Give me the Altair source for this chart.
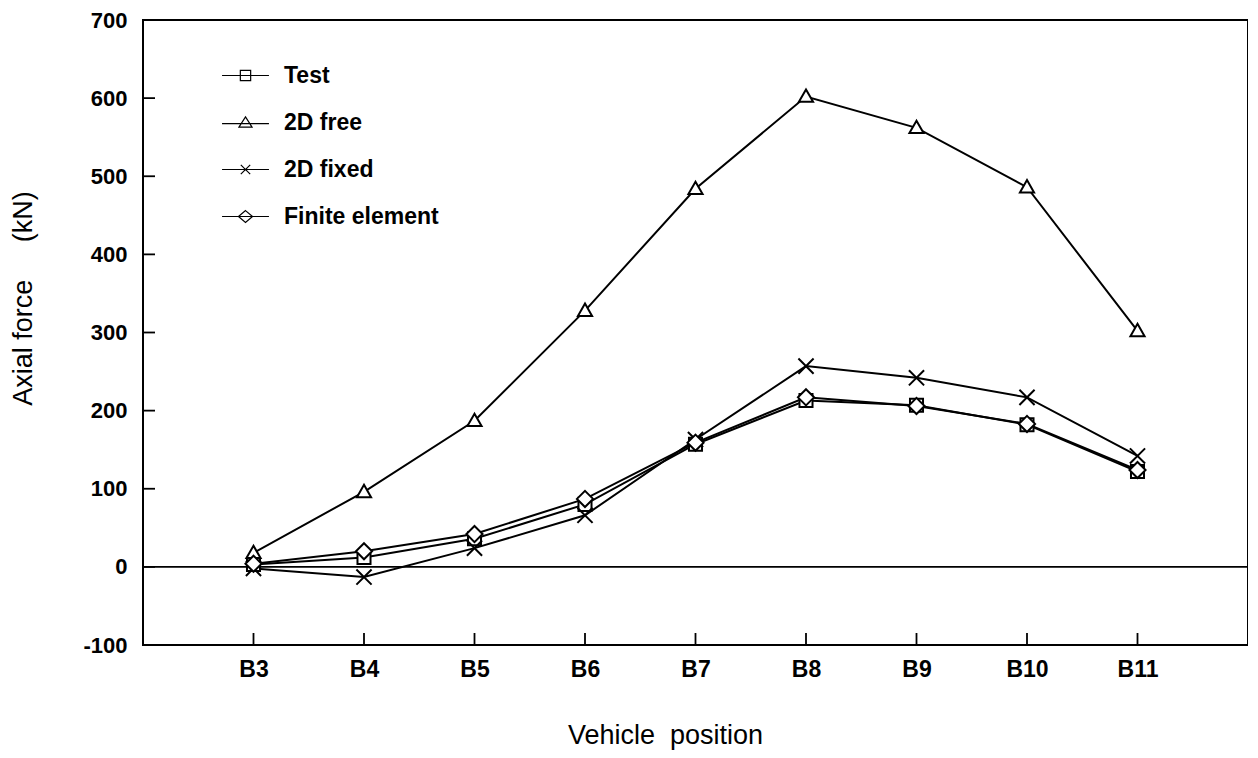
import altair as alt
import pandas as pd

positions = ["B3", "B4", "B5", "B6", "B7", "B8", "B9", "B10", "B11"]
series_names = ["Test", "2D  free", "2D  fixed", "Finite  element"]
test_vals = [3, 12, 36, 80, 157, 213, 207, 182, 122]
free_vals = [18, 96, 187, 328, 484, 602, 562, 486, 302]
fixed_vals = [-2, -13, 24, 66, 163, 257, 242, 217, 142]
fe_vals = [4, 20, 42, 87, 159, 217, 206, 183, 124]
y_ticks = [-100, 0, 100, 200, 300, 400, 500, 600, 700]

rows = []
for name, vals in zip(series_names, [test_vals, free_vals, fixed_vals, fe_vals]):
    for i, (p, v) in enumerate(zip(positions, vals)):
        rows.append({"series": name, "pos": p, "idx": i, "force": v})
df = pd.DataFrame(rows)
ticks_df = pd.DataFrame({"tick": y_ticks})
pos_df = pd.DataFrame({"pos": positions})

W, H = 1105, 625

marker_paths = [
    "M-1,-1H1V1H-1Z",
    "M0,-1L1,0.75H-1Z",
    "M-1,-1L1,1M-1,1L1,-1",
    "M0,-1L1,0L0,1L-1,0Z",
]
legend_paths = [
    "M-1,0H1M-0.22,-0.22H0.22V0.22H-0.22Z",
    "M-1,0.05H1M0,-0.24L0.28,0.2H-0.28Z",
    "M-1,0H1M-0.2,-0.2L0.2,0.2M-0.2,0.2L0.2,-0.2",
    "M-1,0H1M0,-0.25L0.3,0L0,0.25L-0.3,0Z",
]

LABEL_FONT = "Liberation Sans"

x_enc = alt.X(
    "pos:O",
    scale=alt.Scale(type="point", domain=positions, padding=1),
    axis=alt.Axis(
        title="Vehicle\u00a0\u00a0position",
        labelAngle=0,
        labelAlign="center",
        ticks=False,
        domain=False,
        grid=False,
        labelFont=LABEL_FONT,
        labelFontWeight="bold",
        labelFontSize=23,
        labelPadding=24,
        labelColor="black",
        titleFont="Liberation Sans",
        titleFontWeight="normal",
        titleFontSize=27,
        titleX=522,
        titleY=98,
        titleBaseline="alphabetic",
        titleAlign="center",
        titleColor="black",
    ),
)
y_scale = alt.Scale(domain=[-100, 700], nice=False, zero=False)
y_enc = alt.Y(
    "force:Q",
    scale=y_scale,
    axis=alt.Axis(
        title="Axial force\u00a0\u00a0\u00a0\u00a0 (kN)",
        values=y_ticks,
        labelExpr="'' + datum.value",
        ticks=False,
        domain=False,
        grid=False,
        labelFont=LABEL_FONT,
        labelFontWeight="bold",
        labelFontSize=22,
        labelPadding=16,
        labelColor="black",
        titleFont="Liberation Sans",
        titleFontWeight="normal",
        titleFontSize=27,
        titleX=-106,
        titleY=278,
        titleAngle=270,
        titleBaseline="bottom",
        titleAlign="center",
        titleColor="black",
    ),
)

base = alt.Chart(df)

lines = base.mark_line(color="black", strokeWidth=2).encode(
    x=x_enc, y=y_enc, detail="series:N", order=alt.Order("idx:Q")
)

points = base.mark_point(
    fill="white", stroke="black", strokeWidth=2, opacity=1, fillOpacity=1
).encode(
    x="pos:O",
    y="force:Q",
    shape=alt.Shape(
        "series:N",
        scale=alt.Scale(domain=series_names, range=marker_paths),
        legend=None,
    ),
    size=alt.Size(
        "series:N",
        scale=alt.Scale(domain=series_names, range=[170, 260, 150, 210]),
        legend=None,
    ),
)

legend_layer = base.mark_point(
    filled=False, color="black", strokeWidth=1.2, opacity=0
).encode(
    x="pos:O",
    y="force:Q",
    shape=alt.Shape(
        "series:N",
        scale=alt.Scale(domain=series_names, range=legend_paths),
        legend=alt.Legend(
            title=None,
            orient="none",
            legendX=78,
            legendY=31,
            symbolSize=2200,
            symbolStrokeWidth=1.2,
            symbolStrokeColor="black",
            symbolOpacity=1,
            labelFont=LABEL_FONT,
            labelFontWeight="bold",
            labelFontSize=23,
            labelColor="black",
            labelOffset=14,
            labelLimit=400,
            rowPadding=10,
        ),
    ),
)

zero_line = alt.Chart(pd.DataFrame({"z": [0]})).mark_rule(
    color="black", strokeWidth=1.8
).encode(y=alt.Y("z:Q", scale=y_scale))

y_tick_marks = alt.Chart(ticks_df).mark_rule(color="black", strokeWidth=1.8).encode(
    y=alt.Y("tick:Q", scale=y_scale), x=alt.value(0), x2=alt.value(12)
)

x_tick_marks = alt.Chart(pos_df).mark_rule(color="black", strokeWidth=1.8).encode(
    x="pos:O", y=alt.value(H), y2=alt.value(H - 12)
)

chart = (
    alt.layer(zero_line, y_tick_marks, x_tick_marks, lines, legend_layer, points)
    .resolve_scale(shape="independent")
    .properties(
        width=W,
        height=H,
        autosize=alt.AutoSizeParams(type="none"),
        padding={"left": 135, "top": 12, "right": 0, "bottom": 105},
        background="white",
    )
    .configure_view(stroke="black", strokeWidth=2)
)

chart.save("out.html", embed_options={"renderer": "svg", "actions": False})
